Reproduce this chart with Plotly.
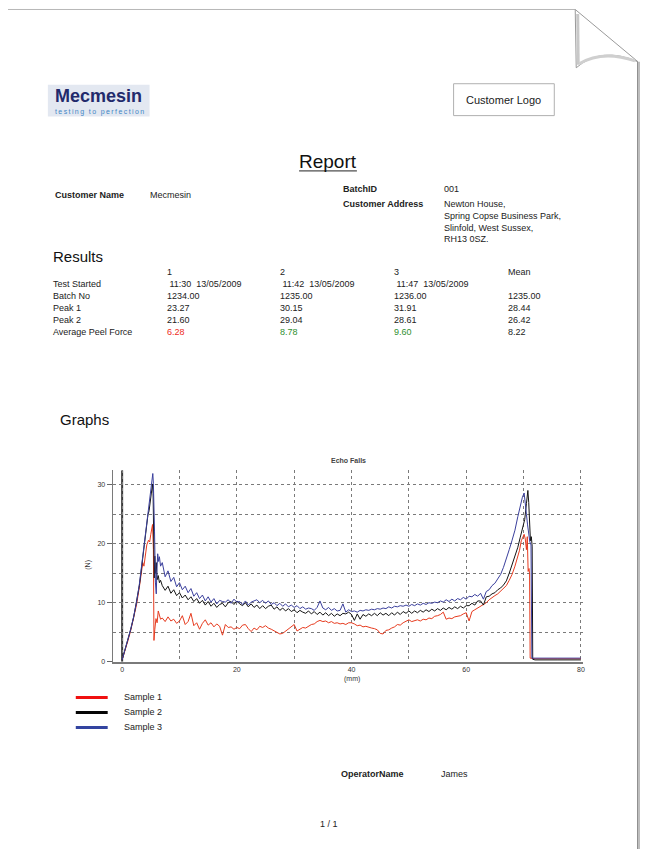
import plotly.graph_objects as go

# ------------------------------------------------------------------ data
CHART_TITLE = "Echo Falls"
X_TITLE = "(mm)"
Y_TITLE = "(N)"
SERIES_NAMES = ["Sample 1", "Sample 2", "Sample 3"]
SERIES_COLORS = ["#e63b1f", "#141414", "#3a3f9c"]
LEGEND_COLORS = ["#f01010", "#050505", "#3344a0"]
X_TICKS = [0, 20, 40, 60, 80]
Y_TICKS = [0, 10, 20, 30]

# shared sampling positions of the peel plateau (mm)
MID_X = [7.0, 7.5, 8.0, 8.5, 9.0, 9.5, 10.0, 10.5, 11.0, 11.5,
         12.0, 12.5, 13.0, 13.5, 14.0, 14.5, 15.0, 15.5, 16.0, 16.5,
         17.0, 17.5, 18.0, 18.5, 19.0, 19.5, 20.0, 20.5, 21.0, 21.5,
         22.0, 22.5, 23.0, 23.5, 24.0, 24.5, 25.0, 25.5, 26.0, 26.5,
         27.0, 27.5, 28.0, 28.5, 29.0, 29.5, 30.0, 30.5, 31.0, 31.5,
         32.0, 32.5, 33.0, 33.5, 34.0, 34.5, 35.0, 35.5, 36.0, 36.5,
         37.0, 37.5, 38.0, 38.5, 39.0, 39.5, 40.0, 40.5, 41.0, 41.5,
         42.0, 42.5, 43.0, 43.5, 44.0, 44.5, 45.0, 45.5, 46.0, 46.5,
         47.0, 47.5, 48.0, 48.5, 49.0, 49.5, 50.0, 50.5, 51.0, 51.5,
         52.0, 52.5, 53.0, 53.5, 54.0, 54.5, 55.0, 55.5, 56.0, 56.5,
         57.0, 57.5, 58.0, 58.5, 59.0, 59.5, 60.0, 60.5, 61.0, 61.5,
         62.0, 62.5, 63.0, 63.5, 64.0, 64.5, 65.0, 65.5, 66.0]

# Sample 1 (red)
S1_X_START = [0.0, 0.5, 1.0, 1.5, 2.0, 2.5, 3.0, 3.3, 3.6, 3.8, 4.0, 4.3, 4.6,
              4.8, 5.0, 5.2, 5.3, 5.45, 5.5, 5.55, 5.7, 5.9, 6.1, 6.3, 6.5, 6.7]
S1_Y_START = [0.3, 1.8, 3.5, 5.3, 7.2, 9.6, 12.6, 15.0, 16.8, 16.2, 17.9, 19.8, 20.6,
              20.3, 21.6, 22.8, 23.27, 19.0, 11.0, 3.6, 5.5, 7.3, 6.6, 8.6, 7.9, 7.2]
S1_Y_MID = [7.4, 6.8, 7.6, 6.9, 7.2, 6.5, 6.9, 7.8, 6.3, 6.8,
            8.2, 6.1, 6.6, 5.5, 6.5, 7.1, 6.2, 6.6, 5.9, 6.4,
            6.0, 4.5, 6.3, 5.8, 5.9, 5.5, 5.8, 5.6, 6.2, 6.3,
            5.6, 5.1, 5.7, 5.4, 6.0, 5.8, 6.1, 5.7, 5.5, 5.2,
            4.9, 4.7, 4.8, 5.2, 5.5, 5.9, 6.3, 5.2, 5.5, 5.8,
            5.7, 6.0, 6.3, 6.4, 6.8, 7.0, 6.8, 6.9, 6.6, 6.8,
            6.5, 6.6, 6.4, 6.5, 6.3, 6.6, 6.6, 6.4, 6.1, 6.2,
            5.9, 6.0, 5.8, 5.7, 5.6, 5.4, 4.8, 4.7, 5.3, 5.4,
            5.7, 5.9, 6.3, 6.2, 6.6, 6.9, 7.1, 6.8, 7.0, 7.1,
            6.9, 7.2, 7.1, 7.4, 7.3, 7.7, 7.8, 8.0, 8.4, 7.2,
            7.4, 7.3, 7.6, 7.7, 7.8, 8.1, 8.3, 6.9, 8.5, 8.8,
            9.1, 9.4, 9.7, 10.0, 10.5, 10.9, 11.2, 11.5, 12.0]
S1_X_END = [66.5, 67.0, 67.5, 68.0, 68.5, 69.0, 69.3, 69.6, 69.9, 70.1, 70.3, 70.5,
            70.65, 70.8, 70.95, 71.05, 71.15, 72.0, 76.0, 80.0]
S1_Y_END = [12.4, 12.9, 13.8, 14.8, 16.2, 17.8, 18.9, 20.5, 21.1, 21.6, 20.8, 19.0,
            21.2, 15.3, 15.8, 14.9, 0.6, 0.5, 0.5, 0.5]

# Sample 2 (black)
S2_X_START = [0.0, 0.5, 1.0, 1.5, 2.0, 2.5, 3.0, 3.3, 3.6, 3.9, 4.1, 4.3, 4.5, 4.7,
              4.9, 5.05, 5.2, 5.3, 5.4, 5.5, 5.6, 5.7, 5.8, 5.95, 6.1, 6.3, 6.5, 6.7]
S2_Y_START = [0.3, 1.9, 3.7, 5.5, 7.5, 9.9, 12.9, 15.2, 17.8, 20.4, 21.8, 23.6, 24.9, 25.6,
              27.3, 28.8, 29.6, 30.15, 28.5, 22.0, 14.2, 17.9, 15.0, 16.8, 13.9, 14.6, 13.4, 13.8]
S2_Y_MID = [12.9, 12.1, 12.8, 11.6, 12.2, 11.2, 11.7, 10.8, 11.3, 10.5,
            11.0, 10.2, 10.7, 9.9, 10.4, 9.6, 10.2, 9.4, 9.9, 9.2,
            9.7, 9.9, 9.3, 10.0, 10.2, 9.7, 10.3, 9.8, 9.5, 10.0,
            9.3, 9.8, 9.2, 9.6, 9.0, 9.5, 9.0, 9.4, 9.6, 8.9,
            9.3, 8.7, 9.1, 8.6, 9.0, 8.5, 8.8, 8.3, 8.7, 8.4,
            8.2, 8.6, 8.1, 8.5, 8.0, 8.4, 7.9, 8.3, 7.8, 8.2,
            7.7, 8.1, 7.8, 8.2, 8.1, 8.4, 8.0, 7.0, 8.1, 7.2,
            8.0, 7.7, 8.1, 7.8, 8.2, 7.8, 8.3, 7.9, 8.2, 7.8,
            8.3, 7.9, 8.4, 8.0, 8.5, 8.2, 8.6, 8.2, 8.6, 8.3,
            8.7, 8.4, 8.8, 8.5, 8.9, 8.6, 9.0, 8.7, 9.1, 8.8,
            9.2, 8.9, 9.3, 9.0, 9.4, 9.1, 9.5, 9.5, 9.9, 9.6,
            10.3, 10.3, 9.6, 11.0, 11.1, 11.5, 11.7, 12.2, 12.5]
S2_X_END = [66.5, 67.0, 67.5, 68.0, 68.5, 69.0, 69.4, 69.8, 70.2, 70.5, 70.75, 70.9,
            71.05, 71.2, 71.35, 71.5, 71.6, 72.0, 76.0, 80.0]
S2_Y_END = [13.0, 13.7, 15.0, 16.4, 17.9, 19.4, 21.0, 22.6, 24.1, 26.8, 29.04, 27.0,
            23.5, 20.5, 21.2, 19.6, 0.4, 0.3, 0.3, 0.3]

# Sample 3 (blue)
S3_X_START = [0.0, 0.5, 1.0, 1.5, 2.0, 2.5, 3.0, 3.3, 3.6, 3.9, 4.1, 4.3, 4.5, 4.7,
              4.9, 5.05, 5.2, 5.35, 5.45, 5.55, 5.65, 5.8, 5.95, 6.05, 6.2, 6.35, 6.5, 6.7]
S3_Y_START = [0.3, 1.9, 3.7, 5.5, 7.6, 10.0, 13.1, 15.5, 18.2, 20.9, 22.4, 24.2, 25.3, 26.6,
              28.4, 29.3, 30.6, 31.91, 30.2, 27.0, 22.0, 13.5, 11.5, 15.0, 18.3, 17.0, 17.8, 16.2]
S3_Y_MID = [16.8, 14.4, 15.4, 13.6, 14.3, 12.7, 13.4, 12.2, 12.8, 11.7,
            12.4, 11.1, 11.7, 10.7, 11.3, 10.3, 11.0, 10.1, 10.7, 9.8,
            10.4, 10.2, 10.1, 10.5, 9.9, 10.6, 10.1, 10.2, 9.7, 10.3,
            9.6, 10.1, 10.3, 10.5, 10.0, 10.4, 9.9, 10.3, 9.7, 10.0,
            9.5, 9.9, 9.4, 9.8, 9.3, 9.6, 9.2, 9.5, 9.0, 9.3,
            8.9, 9.1, 9.0, 8.7, 9.2, 10.3, 9.1, 8.8, 9.2, 8.7,
            9.0, 8.6, 8.7, 9.8, 8.4, 8.8, 8.5, 8.6, 8.4, 8.7,
            8.6, 8.8, 8.7, 8.9, 8.8, 9.0, 8.9, 9.1, 9.0, 9.3,
            9.1, 9.4, 9.3, 9.5, 9.4, 9.6, 9.4, 9.7, 9.5, 9.8,
            9.6, 9.9, 9.7, 10.0, 9.9, 10.1, 10.0, 10.3, 10.1, 10.5,
            10.2, 10.6, 10.3, 10.7, 10.5, 10.9, 10.6, 11.1, 11.0, 11.4,
            11.1, 11.6, 10.6, 11.9, 12.2, 12.9, 13.3, 14.1, 14.8]
S3_X_END = [66.5, 67.0, 67.5, 68.0, 68.5, 69.0, 69.4, 69.8, 70.1, 70.3, 70.5, 70.7,
            70.9, 71.1, 71.3, 71.45, 72.0, 76.0, 80.0]
S3_Y_END = [16.0, 17.4, 19.0, 20.6, 22.3, 24.6, 26.3, 27.9, 28.61, 27.2, 25.0, 23.2,
            21.6, 20.3, 19.8, 0.6, 0.6, 0.6, 0.6]

# Report texts
REPORT_TITLE = "Report"
LOGO_NAME = "Mecmesin"
LOGO_TAGLINE = "testing to perfection"
CUSTOMER_NAME = "Mecmesin"
BATCH_ID = "001"
ADDRESS_LINES = ["Newton House,", "Spring Copse Business Park,", "Slinfold, West Sussex,", "RH13 0SZ."]
TABLE_HEADER = ["1", "2", "3", "Mean"]
ROW_LABELS = ["Test Started", "Batch No", "Peak 1", "Peak 2", "Average Peel Force"]
TEST_STARTED = [" 11:30  13/05/2009", " 11:42  13/05/2009", " 11:47  13/05/2009", ""]
BATCH_NO = ["1234.00", "1235.00", "1236.00", "1235.00"]
PEAK_1 = ["23.27", "30.15", "31.91", "28.44"]
PEAK_2 = ["21.60", "29.04", "28.61", "26.42"]
AVG_PEEL = ["6.28", "8.78", "9.60", "8.22"]
AVG_PEEL_COLORS = ["#ee2a1c", "#2f8f2f", "#2f8f2f", "#222222"]
OPERATOR = "James"

# ------------------------------------------------------------------ figure
PAGE_W, PAGE_H = 648, 852
OFF = 8                      # default body margin of the html page
W, H = PAGE_W - OFF, PAGE_H - OFF
FONT = "Liberation Sans, Arial, Helvetica, sans-serif"
PL, PR, PT, PB = 113, 585, 472, 664  # chart plot area in page pixels
GRID = "#7a7a7a"

series = [
    (S1_X_START + MID_X + S1_X_END, S1_Y_START + S1_Y_MID + S1_Y_END),
    (S2_X_START + MID_X + S2_X_END, S2_Y_START + S2_Y_MID + S2_Y_END),
    (S3_X_START + MID_X + S3_X_END, S3_Y_START + S3_Y_MID + S3_Y_END),
]

fig = go.Figure()
for (xs, ys), name, col in zip(series, SERIES_NAMES, SERIES_COLORS):
    fig.add_trace(go.Scatter(x=xs, y=ys, mode="lines", name=name,
                             line=dict(color=col, width=1), showlegend=False,
                             xaxis="x", yaxis="y"))
# page-coordinate helper subplot (no data)
fig.add_trace(go.Scatter(x=[], y=[], xaxis="x2", yaxis="y2", showlegend=False,
                         hoverinfo="skip"))

X_RANGE = [-1.65, 80.4]
Y_RANGE = [0, 32.45]

fig.update_layout(
    width=W, height=H, autosize=False,
    margin=dict(l=0, r=0, t=0, b=0, pad=0),
    paper_bgcolor="white", plot_bgcolor="rgba(0,0,0,0)",
    font=dict(family=FONT, color="#222"),
    showlegend=False,
    xaxis=dict(domain=[(PL - OFF) / W, (PR - OFF) / W], anchor="y", range=X_RANGE,
               tickvals=X_TICKS, ticks="", showgrid=True, griddash="dot",
               gridcolor=GRID, gridwidth=1, zeroline=False,
               showline=True, linecolor="#7a7a7a", linewidth=2,
               tickfont=dict(size=7, color="#333"),
               minor=dict(dtick=10, tick0=0, showgrid=True, griddash="dot",
                          gridcolor=GRID, gridwidth=1, ticks="")),
    yaxis=dict(domain=[(PAGE_H - PB) / H, (PAGE_H - PT) / H], anchor="x", range=Y_RANGE,
               tickvals=Y_TICKS, ticks="outside", ticklen=5, tickcolor="#666",
               showgrid=True, griddash="dot", gridcolor=GRID, gridwidth=1,
               zeroline=False, showline=True, linecolor="#7a7a7a", linewidth=1,
               tickfont=dict(size=7, color="#333"),
               minor=dict(dtick=5, tick0=0, showgrid=True, griddash="dot",
                          gridcolor=GRID, gridwidth=1, ticks="")),
    # helper axes in page pixel coordinates
    xaxis2=dict(domain=[0, 1], anchor="y2", range=[OFF, PAGE_W], visible=False,
                showgrid=False, zeroline=False, fixedrange=True),
    yaxis2=dict(domain=[0, 1], anchor="x2", range=[PAGE_H, OFF], visible=False,
                showgrid=False, zeroline=False, fixedrange=True),
)

shapes = []
ann = []


def text(x, y, s, size=9, bold=False, color="#222", anchor="left", angle=0, family=FONT):
    ann.append(dict(x=x, y=y, xref="x2", yref="y2", text=("<b>%s</b>" % s) if bold else s,
                    showarrow=False, xanchor=anchor, yanchor="middle", textangle=angle,
                    font=dict(family=family, size=size, color=color)))


def pline(x0, y0, x1, y1, color, width=1):
    shapes.append(dict(type="line", xref="x2", yref="y2", x0=x0, y0=y0, x1=x1, y1=y1,
                       line=dict(color=color, width=width)))


# thick zero line of the chart
shapes.append(dict(type="line", xref="x", yref="y", x0=0, x1=0, y0=Y_RANGE[0], y1=Y_RANGE[1],
                   line=dict(color="#3a3a3a", width=2), layer="below"))

# page border, shadow and curl
pline(OFF, 9.5, 577, 9.5, "#b8b8b8", 1)
pline(639.5, 62, 639.5, PAGE_H, "#8f8f8f", 1)
pline(641.5, 62, 641.5, PAGE_H, "#bdbdbd", 3)
shapes.append(dict(type="path", xref="x2", yref="y2",
                   path="M 577 9.5 L 640 62 Q 603 46 578 68 Z",
                   fillcolor="white", line=dict(color="#9a9a9a", width=1)))
shapes.append(dict(type="path", xref="x2", yref="y2",
                   path="M 579.5 14 L 580 65", line=dict(color="#c8c8c8", width=3)))
shapes.append(dict(type="path", xref="x2", yref="y2",
                   path="M 581 64 Q 604 50 637 61", line=dict(color="#cfcfcf", width=3)))

# logos
shapes.append(dict(type="rect", xref="x2", yref="y2", x0=48, y0=85, x1=150, y1=117,
                   fillcolor="#e3e8f1", line=dict(width=0)))
text(99, 96, "<b>%s</b>" % LOGO_NAME, size=18, color="#222a6c", anchor="center")
text(100, 112, "\u2009".join(LOGO_TAGLINE), size=7, color="#3f86c6", anchor="center")
shapes.append(dict(type="rect", xref="x2", yref="y2", x0=455, y0=84, x1=556, y1=116,
                   fillcolor="white", line=dict(color="#b0b0b0", width=1)))
text(505.5, 100, "Customer Logo", size=11, color="#1a1a1a", anchor="center")

# title
text(329, 162, REPORT_TITLE, size=19, color="#111", anchor="center")
pline(300, 171.5, 358, 171.5, "#222", 1)

# header fields
text(53, 196, "Customer Name", bold=True)
text(148, 196, CUSTOMER_NAME)
text(342, 190, "BatchID", bold=True)
text(443, 190, BATCH_ID)
text(342, 205, "Customer Address", bold=True)
for i, line in enumerate(ADDRESS_LINES):
    text(443, 205 + 11.7 * i, line)

# results table
text(51, 257, "Results", size=15, color="#111")
COLS = [165, 279, 393, 508]
ROW_Y = [273, 285, 297, 309, 321, 333]
for cx, h in zip(COLS, TABLE_HEADER):
    text(cx, ROW_Y[0], h)
rows = [TEST_STARTED, BATCH_NO, PEAK_1, PEAK_2, AVG_PEEL]
for ri, (lab, vals) in enumerate(zip(ROW_LABELS, rows)):
    yy = ROW_Y[ri + 1]
    text(51, yy, lab)
    for ci, (cx, v) in enumerate(zip(COLS, vals)):
        if not v:
            continue
        col = AVG_PEEL_COLORS[ci] if lab == "Average Peel Force" else "#222"
        text(cx, yy, v.replace("  ", "&nbsp;&nbsp;").replace(" 1", "&nbsp;1"), color=col)

text(58, 421, "Graphs", size=15, color="#111")

# chart labels
text(350, 462, "<b>" + CHART_TITLE + "</b>", size=7, color="#444", anchor="center")
text(88, 567, Y_TITLE, size=7, color="#333", anchor="center", angle=-90)
text(353, 681, X_TITLE, size=7, color="#333", anchor="center")

# legend
for i, (nm, col) in enumerate(zip(SERIES_NAMES, LEGEND_COLORS)):
    yy = 700 + 15 * i
    pline(76, yy, 108, yy, col, 3)
    text(122, yy - 0.5, nm, size=9)

# operator & page number
text(340, 777, "OperatorName", bold=True)
text(440, 777, OPERATOR)
text(330, 827, "1 / 1", anchor="center")

fig.update_layout(shapes=shapes, annotations=ann)
fig.write_html("out.html")
